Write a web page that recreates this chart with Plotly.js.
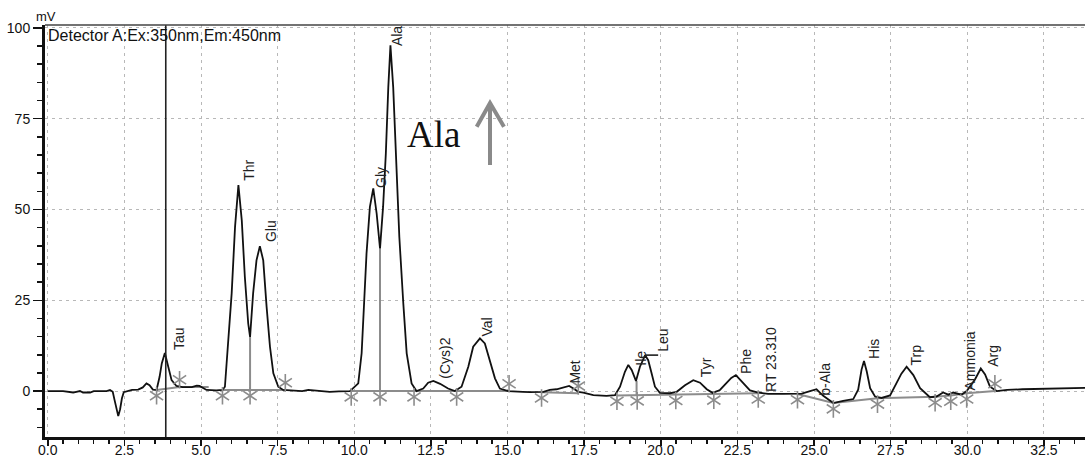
<!DOCTYPE html>
<html>
<head>
<meta charset="utf-8">
<script src="https://cdn.plot.ly/plotly-3.0.1.min.js"></script>
<style>
  html, body { margin: 0; padding: 0; background: #ffffff; }
  #chart { width: 1085px; height: 458px; }
</style>
</head>
<body>
<div id="chart"></div>
<script>
// ---------------- DATA ----------------
// Retention time (min) and detector signal (mV)
const times = [
  0.00, 0.50, 0.83, 1.05, 1.15, 1.38, 1.50, 1.92, 2.03, 2.12,
  2.18, 2.25, 2.30, 2.36, 2.42, 2.48, 2.60, 2.75, 2.95, 3.10,
  3.22, 3.32, 3.43, 3.55, 3.65, 3.72, 3.82, 3.93, 4.04, 4.20,
  4.40, 4.70, 4.86, 4.95, 5.18, 5.50, 5.70, 5.78, 5.88, 6.00,
  6.11, 6.22, 6.33, 6.43, 6.54, 6.60, 6.70, 6.81, 6.92, 7.03,
  7.14, 7.25, 7.36, 7.52, 7.68, 8.00, 8.30, 8.50, 8.80, 9.20,
  9.50, 9.86, 10.13, 10.24, 10.32, 10.40, 10.51, 10.62, 10.73, 10.84,
  10.94, 11.03, 11.11, 11.18, 11.27, 11.36, 11.47, 11.60, 11.71, 11.87,
  12.03, 12.25, 12.41, 12.58, 12.80, 13.06, 13.28, 13.50, 13.72, 13.88,
  14.10, 14.26, 14.43, 14.59, 14.75, 15.02, 15.50, 15.73, 16.17, 16.38,
  16.60, 16.82, 17.01, 17.15, 17.31, 17.47, 17.80, 18.23, 18.51, 18.67,
  18.83, 18.94, 19.05, 19.19, 19.32, 19.49, 19.59, 19.70, 19.81, 19.97,
  20.30, 20.52, 20.79, 21.06, 21.28, 21.50, 21.69, 21.93, 22.15, 22.30,
  22.45, 22.69, 22.91, 23.18, 23.50, 24.00, 24.60, 24.87, 25.08, 25.30,
  25.63, 25.95, 26.28, 26.44, 26.55, 26.63, 26.72, 26.83, 26.99, 27.20,
  27.48, 27.69, 27.85, 28.02, 28.24, 28.46, 28.78, 29.00, 29.21, 29.38,
  29.54, 29.81, 29.98, 30.25, 30.44, 30.58, 30.74, 30.96, 31.30, 31.80,
  32.20, 32.80, 33.30, 33.84
];
const signal = [
  0.0, 0.0, -0.4, 0.0, -0.4, -0.4, 0.0, 0.0, 0.3, -0.2,
  -2.5, -5.5, -6.9, -5.0, -2.0, -0.3, 0.0, 0.3, 0.4, 1.0,
  2.1, 1.6, 0.4, 0.3, 4.0, 7.6, 10.5, 6.7, 3.0, 1.4,
  1.1, 1.1, 1.5, 1.4, 0.3, 0.2, 0.3, 1.2, 12.2, 26.9,
  45.2, 56.7, 47.0, 31.4, 18.6, 14.9, 26.9, 36.0, 39.9, 36.0,
  23.2, 12.2, 4.9, 1.2, 0.3, 0.1, 0.0, 0.3, 0.0, -0.2,
  -0.1, 0.0, 2.1, 10.4, 24.1, 37.9, 50.7, 55.8, 48.9, 39.3,
  50.7, 65.4, 83.7, 95.2, 83.7, 65.4, 42.4, 24.1, 10.4, 2.1,
  0.0, 0.7, 2.3, 2.8, 2.0, 0.7, 0.0, 1.2, 6.7, 12.2,
  14.5, 13.1, 8.5, 3.5, 0.7, 0.0, -0.2, -0.3, -0.2, 0.3,
  0.5, 1.0, 1.4, 0.7, -0.2, -0.4, -1.1, -1.3, -1.1, 1.2,
  5.3, 7.2, 5.8, 2.8, 6.7, 9.9, 8.5, 4.9, 1.2, -0.5,
  -0.6, -0.2, 1.6, 3.0, 2.3, 0.5, -0.5, 0.3, 2.2, 3.6,
  4.4, 2.2, 0.2, -0.4, -0.8, -0.8, -0.7, 0.0, 0.5, -1.3,
  -3.3, -2.7, -2.2, 0.4, 5.9, 8.3, 5.4, 0.8, -1.5, -1.9,
  -1.2, 2.2, 4.8, 6.7, 4.4, 0.8, -1.7, -1.5, -0.4, -1.0,
  -0.4, -1.0, 0.0, 3.2, 6.2, 4.6, 1.2, 0.0, 0.3, 0.5,
  0.6, 0.6, 0.7, 0.9
];

// Peak identification
const peakNames   = ['Tau', 'Thr', 'Glu', 'Gly', 'Ala', '(Cys)2', 'Val', 'Met', 'Ile', 'Leu',
                     'Tyr', 'Phe', 'RT 23.310', 'b-Ala', 'His', 'Trp', 'Ammonia', 'Arg'];
const peakTimes   = [3.82, 6.22, 6.92, 10.62, 11.18, 12.58, 14.10, 17.01, 18.94, 19.49,
                     21.06, 22.45, 23.31, 25.08, 26.63, 28.02, 29.90, 30.44];
const peakHeights = [10.5, 56.7, 39.9, 55.8, 95.2, 2.8, 14.5, 1.4, 7.2, 9.9,
                     3.0, 4.4, -0.6, 0.5, 8.3, 6.7, -0.2, 6.2];

// Integration baselines (time, mV); null separates segments
const baseTimes  = [3.55, 4.30, 5.25, null, 5.70, 7.75, null, 9.90, 11.95, 13.34, 15.05, null,
                    16.11, 17.31, null, 18.57, 19.23, 20.49, 21.73, 23.18, null,
                    24.46, 25.63, 27.07, 28.95, 29.46, 29.98, 30.90];
const baseValues = [0.3, 1.1, 1.1, null, 0.3, 0.3, null, 0.0, 0.0, 0.0, 0.0, null,
                    -0.3, -0.6, null, -1.2, -1.1, -1.0, -0.9, -0.6, null,
                    -0.8, -3.3, -2.0, -1.6, -1.2, -0.6, 0.0];

// Peak start/split markers (below baseline) and end markers (above)
const startTimes  = [3.55, 5.70, 6.60, 9.90, 10.84, 11.95, 13.34, 16.11, 18.57, 19.23,
                     20.49, 21.73, 23.18, 24.46, 25.63, 27.07, 28.95, 29.46, 29.98];
const startBase   = [0.3, 0.3, 0.3, 0.0, 0.0, 0.0, 0.0, -0.3, -1.2, -1.1,
                     -1.0, -0.9, -0.6, -0.8, -3.3, -2.0, -1.6, -1.2, -0.6];
const endTimes    = [4.30, 7.75, 15.05, 17.31, 30.90];
const endBase     = [1.1, 0.3, 0.0, -0.6, 0.0];

// Perpendicular drops at unresolved valleys
const dropTimes   = [6.60, 10.84, 19.21];
const dropBase    = [0.3, 0.0, -1.1];
const dropTop     = [14.9, 39.3, 2.8];

const cursorTime  = 3.85;
const xTickVals   = [0, 2.5, 5, 7.5, 10, 12.5, 15, 17.5, 20, 22.5, 25, 27.5, 30, 32.5];
const yTickVals   = [0, 25, 50, 75, 100];

// ---------------- STYLE / LAYOUT ----------------
const FONT = 'Liberation Sans, Arial, sans-serif';
const GRAY = '#8c8c8c';
// label offsets in pixels (x: right of apex, y: above apex)
const labelDx = [13.5, 10.7, 11, 7.7, 7.3, 11.7, 7, 6, 13, 17, 12.7, 9.5, 8, 8.5, 10, 9.3, 5.7, 12];
const labelDy = [1.7, 3, 3, 0, -2, 0.7, 1.3, 1, -2, 2, 2, 0, 0, -7, 1, 0.7, 0.7, 0.5];

const dropX = [], dropY = [];
dropTimes.forEach((t, i) => { dropX.push(t, t, null); dropY.push(dropBase[i], dropTop[i], null); });

function starMarkers(xs, ys) {
  return ['y-up-open', 'y-down-open'].map(sym => ({
    x: xs, y: ys, mode: 'markers', showlegend: false, hoverinfo: 'skip',
    marker: { symbol: sym, size: 11, color: GRAY, line: { color: GRAY, width: 1.6 } }
  }));
}

const traces = [
  { x: baseTimes, y: baseValues, mode: 'lines', line: { color: GRAY, width: 2 },
    connectgaps: false, hoverinfo: 'skip', showlegend: false },
  { x: dropX, y: dropY, mode: 'lines', line: { color: GRAY, width: 2 },
    connectgaps: false, hoverinfo: 'skip', showlegend: false },
  { x: times, y: signal, mode: 'lines', line: { color: '#111111', width: 1.8 },
    showlegend: false }
].concat(
  starMarkers(startTimes, startBase.map(v => v - 1.6)),
  starMarkers(endTimes, endBase.map(v => v + 2.0))
);

const annotations = peakNames.map((name, i) => ({
  x: peakTimes[i], y: peakHeights[i], xref: 'x', yref: 'y',
  text: name, showarrow: false, textangle: -90,
  xanchor: 'center', yanchor: 'bottom', xshift: labelDx[i], yshift: labelDy[i],
  borderpad: 0, font: { family: FONT, size: 14, color: '#222222' }
}));

annotations.push(
  { xref: 'paper', yref: 'paper', x: 0, y: 1, xanchor: 'left', yanchor: 'top',
    xshift: 2, yshift: -1, showarrow: false, borderpad: 0,
    text: 'Detector A:Ex:350nm,Em:450nm', font: { family: FONT, size: 16, color: '#111111' } },
  { xref: 'paper', yref: 'paper', x: 0, y: 1, xanchor: 'left', yanchor: 'bottom',
    xshift: -10, yshift: 0, showarrow: false, borderpad: 0,
    text: 'mV', font: { family: FONT, size: 13, color: '#111111' } },
  { xref: 'paper', yref: 'paper', x: 0.3731, y: 0.7342, xanchor: 'center', yanchor: 'middle',
    showarrow: false, borderpad: 0,
    text: 'Ala', font: { family: 'Liberation Serif, Times New Roman, serif', size: 37, color: '#111111' } }
);

const leuIdx = peakNames.indexOf('Leu');
const shapes = [
  { type: 'line', xref: 'x', yref: 'paper', x0: cursorTime, x1: cursorTime, y0: 0, y1: 1,
    line: { color: '#222222', width: 1.6 } },
  { type: 'line', xref: 'paper', yref: 'paper', x0: 0, x1: 1, y0: 1, y1: 1,
    line: { color: '#444444', width: 1.5 } },
  { type: 'line', xref: 'paper', yref: 'paper', x0: 0.4279, x1: 0.4279, y0: 0.6602, y1: 0.8107,
    line: { color: '#8a8a8a', width: 4 } },
  { type: 'path', xref: 'paper', yref: 'paper',
    path: 'M 0.4151 0.7532 L 0.4279 0.8107 L 0.4413 0.7532',
    line: { color: '#8a8a8a', width: 4 } },
  // short leader from the Leu apex to its label
  { type: 'line', xref: 'x', yref: 'y', xsizemode: 'pixel', ysizemode: 'pixel',
    xanchor: peakTimes[leuIdx], yanchor: peakHeights[leuIdx], x0: 0, x1: 13, y0: 0, y1: 0,
    line: { color: '#111111', width: 1.5 } }
];

const layout = {
  width: 1085, height: 458,
  margin: { l: 45, r: 0, t: 25, b: 21, pad: 0 },
  paper_bgcolor: '#ffffff', plot_bgcolor: '#ffffff',
  font: { family: FONT, size: 14, color: '#111111' },
  showlegend: false,
  xaxis: {
    range: [-0.09, 33.84], tickvals: xTickVals, tickformat: '.1f',
    ticks: 'outside', ticklen: 6, tickwidth: 1.5, tickcolor: '#111111',
    ticklabelstandoff: -8,
    showline: true, linewidth: 3, linecolor: '#111111',
    showgrid: true, gridcolor: '#b8b8b8', gridwidth: 1, griddash: '3px,4px',
    zeroline: false,
    minor: { dtick: 0.5, tick0: 0, ticks: 'outside', ticklen: 4, tickwidth: 1.5, tickcolor: '#111111', showgrid: false },
    tickfont: { family: FONT, size: 14, color: '#111111' }
  },
  yaxis: {
    range: [-12.65, 100.8], tickvals: yTickVals,
    ticks: 'outside', ticklen: 9, tickwidth: 1.5, tickcolor: '#111111',
    showline: true, linewidth: 3, linecolor: '#111111',
    showgrid: true, gridcolor: '#b8b8b8', gridwidth: 1, griddash: '3px,4px',
    zeroline: false,
    minor: { dtick: 5, tick0: 0, ticks: 'outside', ticklen: 5, tickwidth: 1.5, tickcolor: '#111111', showgrid: false },
    tickfont: { family: FONT, size: 14, color: '#111111' }
  },
  annotations: annotations,
  shapes: shapes
};

Plotly.newPlot('chart', traces, layout, { displayModeBar: false, staticPlot: true });
</script>
</body>
</html>
